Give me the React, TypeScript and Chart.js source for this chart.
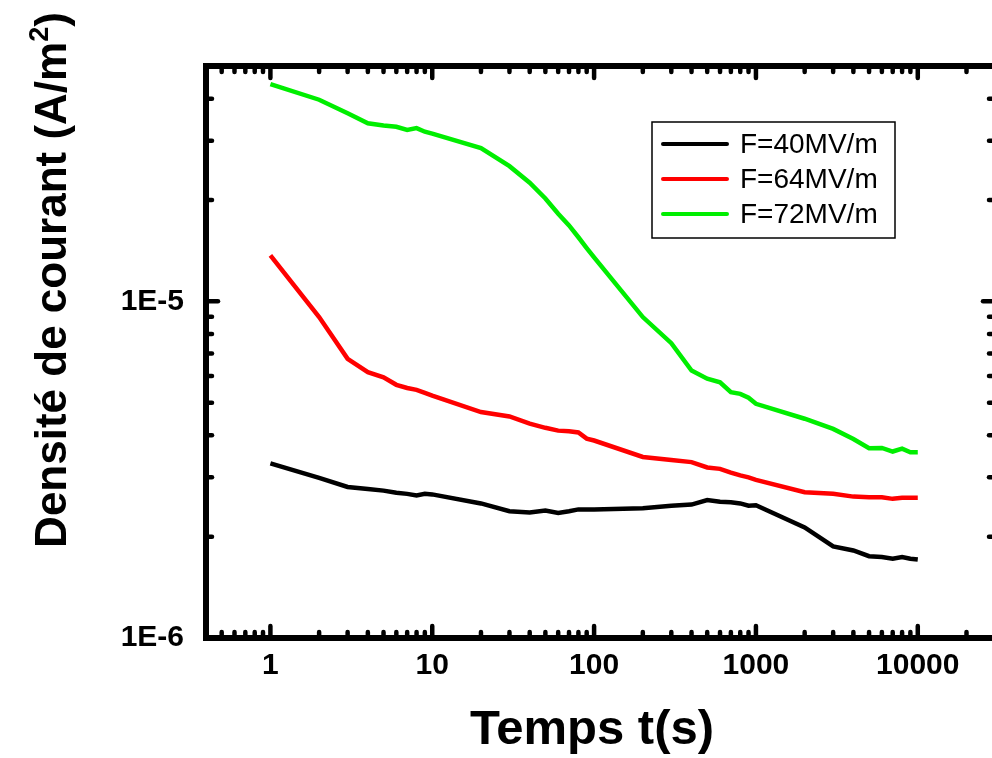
import React, { useEffect, useRef } from "react";
import { Chart, registerables } from "chart.js";
Chart.register(...registerables);

// Time (s)
const timeS = [1, 2, 3, 4, 5, 6, 7, 8, 9, 10, 20, 30, 40, 50, 60, 70, 80, 90, 100, 200, 300, 400, 500, 600, 700, 800, 900, 1000, 2000, 3000, 4000, 5000, 6000, 7000, 8000, 9000, 10000];
// Current density (A/m²)
const j40 = [3.30e-6, 2.99e-6, 2.81e-6, 2.77e-6, 2.74e-6, 2.70e-6, 2.68e-6, 2.65e-6, 2.68e-6, 2.67e-6, 2.51e-6, 2.38e-6, 2.36e-6, 2.39e-6, 2.35e-6, 2.38e-6, 2.41e-6, 2.41e-6, 2.41e-6, 2.43e-6, 2.47e-6, 2.49e-6, 2.57e-6, 2.54e-6, 2.53e-6, 2.51e-6, 2.47e-6, 2.48e-6, 2.13e-6, 1.87e-6, 1.82e-6, 1.75e-6, 1.74e-6, 1.72e-6, 1.74e-6, 1.72e-6, 1.71e-6];
const j64 = [1.37e-5, 8.98e-6, 6.75e-6, 6.16e-6, 5.95e-6, 5.65e-6, 5.53e-6, 5.46e-6, 5.35e-6, 5.25e-6, 4.69e-6, 4.55e-6, 4.33e-6, 4.21e-6, 4.13e-6, 4.11e-6, 4.08e-6, 3.91e-6, 3.86e-6, 3.45e-6, 3.38e-6, 3.33e-6, 3.21e-6, 3.18e-6, 3.10e-6, 3.04e-6, 3.00e-6, 2.95e-6, 2.71e-6, 2.68e-6, 2.63e-6, 2.62e-6, 2.62e-6, 2.59e-6, 2.61e-6, 2.61e-6, 2.61e-6];
const j72 = [4.42e-5, 3.97e-5, 3.62e-5, 3.38e-5, 3.33e-5, 3.30e-5, 3.23e-5, 3.27e-5, 3.19e-5, 3.15e-5, 2.85e-5, 2.52e-5, 2.25e-5, 2.02e-5, 1.82e-5, 1.68e-5, 1.55e-5, 1.44e-5, 1.35e-5, 8.98e-6, 7.51e-6, 6.23e-6, 5.89e-6, 5.75e-6, 5.37e-6, 5.31e-6, 5.17e-6, 4.96e-6, 4.48e-6, 4.18e-6, 3.90e-6, 3.66e-6, 3.67e-6, 3.58e-6, 3.65e-6, 3.56e-6, 3.56e-6];

const seriesLabels = ["F=40MV/m", "F=64MV/m", "F=72MV/m"];
const seriesColors = ["#000000", "#ff0000", "#00ee00"];

const xMajorTicks = [1, 10, 100, 1000, 10000];
const yMajorTicks = [1e-6, 1e-5];
const xTickLabels = ["1", "10", "100", "1000", "10000"];
const yTickLabels = ["1E-6", "1E-5"];

const X_MIN = 0.4, X_MAX = 30000, Y_MIN = 1e-6, Y_MAX = 5e-5;
const FONT = "'Liberation Sans', Arial, Helvetica, sans-serif";

function minorTicks(min: number, max: number) {
  const out: number[] = [];
  for (let e = Math.floor(Math.log10(min)); e <= Math.ceil(Math.log10(max)); e++) {
    for (let m = 2; m <= 9; m++) {
      const v = m * Math.pow(10, e);
      if (v > min * 1.0001 && v < max * 0.9999) out.push(v);
    }
  }
  return out;
}

const framePlugin = {
  id: "frame",
  afterDatasetsDraw(chart: any) {
    const { ctx, chartArea, scales } = chart;
    const { left, right, top, bottom } = chartArea;
    const x = scales.x, y = scales.y;
    ctx.save();
    ctx.strokeStyle = "#000";
    ctx.lineCap = "round";
    ctx.lineWidth = 4.5;
    const seg = (x1: number, y1: number, x2: number, y2: number) => {
      ctx.beginPath(); ctx.moveTo(x1, y1); ctx.lineTo(x2, y2); ctx.stroke();
    };
    const MAJ = 12, MIN = 6;
    for (const v of xMajorTicks) {
      const p = x.getPixelForValue(v);
      seg(p, bottom, p, bottom - MAJ); seg(p, top, p, top + MAJ);
    }
    for (const v of minorTicks(X_MIN, X_MAX)) {
      const p = x.getPixelForValue(v);
      seg(p, bottom, p, bottom - MIN); seg(p, top, p, top + MIN);
    }
    for (const v of yMajorTicks) {
      const p = y.getPixelForValue(v);
      seg(left, p, left + MAJ, p); seg(right, p, right - MAJ, p);
    }
    for (const v of minorTicks(Y_MIN, Y_MAX)) {
      const p = y.getPixelForValue(v);
      seg(left, p, left + MIN, p); seg(right, p, right - MIN, p);
    }
    ctx.lineCap = "square";
    ctx.lineWidth = 6;
    ctx.strokeRect(left, top, right - left, bottom - top);
    ctx.restore();
  },
  afterDraw(chart: any) {
    const { ctx } = chart;
    ctx.save();
    ctx.fillStyle = "#000";
    // x title
    ctx.font = `bold 49px ${FONT}`;
    ctx.textAlign = "center";
    ctx.textBaseline = "alphabetic";
    ctx.fillText("Temps t(s)", 592, 744);
    // y title, rotated
    ctx.translate(66, 280);
    ctx.rotate(-Math.PI / 2);
    const main = "Densité de courant (A/m";
    const sup = "2";
    const tail = ")";
    const bigF = `bold 44px ${FONT}`;
    const supF = `bold 27px ${FONT}`;
    ctx.font = bigF;
    const wMain = ctx.measureText(main).width;
    const wTail = ctx.measureText(tail).width;
    ctx.font = supF;
    const wSup = ctx.measureText(sup).width;
    const total = wMain + wSup + wTail;
    let cx = -total / 2;
    ctx.textAlign = "left";
    ctx.font = bigF;
    ctx.fillText(main, cx, 0);
    cx += wMain;
    ctx.font = supF;
    ctx.fillText(sup, cx, -18);
    cx += wSup;
    ctx.font = bigF;
    ctx.fillText(tail, cx, 0);
    ctx.restore();

    // legend
    ctx.save();
    const bx = 652, by = 122, bw = 243, bh = 116;
    ctx.strokeStyle = "#000";
    ctx.lineWidth = 1.5;
    ctx.strokeRect(bx, by, bw, bh);
    ctx.font = `28px ${FONT}`;
    ctx.textAlign = "left";
    ctx.textBaseline = "middle";
    seriesLabels.forEach((lab, i) => {
      const yy = by + 22 + i * 35;
      ctx.strokeStyle = seriesColors[i];
      ctx.lineWidth = 4;
      ctx.lineCap = "round";
      ctx.beginPath(); ctx.moveTo(bx + 11, yy); ctx.lineTo(bx + 75, yy); ctx.stroke();
      ctx.fillStyle = "#000";
      ctx.fillText(lab, bx + 88, yy + 1);
    });
    ctx.restore();
  },
};

export default function App() {
  const ref = useRef<HTMLCanvasElement>(null);
  useEffect(() => {
    const canvas = ref.current!;
    const mk = (vals: number[]) => timeS.map((t, i) => ({ x: t, y: vals[i] }));
    const chart = new Chart(canvas, {
      type: "line",
      data: {
        datasets: [j40, j64, j72].map((vals, i) => ({
          label: seriesLabels[i],
          data: mk(vals),
          borderColor: seriesColors[i],
          backgroundColor: seriesColors[i],
          borderWidth: 4.5,
          pointRadius: 0,
          tension: 0,
          fill: false,
        })),
      },
      options: {
        responsive: false,
        animation: false,
        devicePixelRatio: 1,
        layout: { padding: { left: 0, right: 15, top: 66, bottom: 0 } },
        plugins: { legend: { display: false }, tooltip: { enabled: false }, title: { display: false } },
        scales: {
          x: {
            type: "logarithmic",
            min: X_MIN,
            max: X_MAX,
            grid: { display: false },
            border: { display: false },
            afterBuildTicks: (s: any) => { s.ticks = xMajorTicks.map((v) => ({ value: v })); },
            afterFit: (s: any) => { s.height = 120; },
            ticks: {
              autoSkip: false,
              maxRotation: 0,
              padding: 2,
              color: "#000",
              font: { family: FONT, size: 30, weight: "bold" },
              callback: (v: any) => { const k = xMajorTicks.indexOf(Number(v)); return k >= 0 ? xTickLabels[k] : ""; },
            },
          },
          y: {
            type: "logarithmic",
            min: Y_MIN,
            max: Y_MAX,
            grid: { display: false },
            border: { display: false },
            afterBuildTicks: (s: any) => { s.ticks = yMajorTicks.map((v) => ({ value: v })); },
            afterFit: (s: any) => { s.width = 206; },
            ticks: {
              autoSkip: false,
              padding: 14,
              color: "#000",
              font: { family: FONT, size: 30, weight: "bold" },
              callback: (v: any) => {
                const k = yMajorTicks.findIndex((t) => Math.abs(t - Number(v)) / t < 1e-6);
                return k >= 0 ? yTickLabels[k] : "";
              },
            },
          },
        },
      },
      plugins: [framePlugin],
    } as any);
    return () => chart.destroy();
  }, []);
  return (
    <div style={{ position: "fixed", left: 0, top: 0, width: 992, height: 758, overflow: "hidden", background: "#fff" }}>
      <canvas ref={ref} width={1010} height={758} style={{ display: "block", width: 1010, height: 758 }} />
    </div>
  );
}
